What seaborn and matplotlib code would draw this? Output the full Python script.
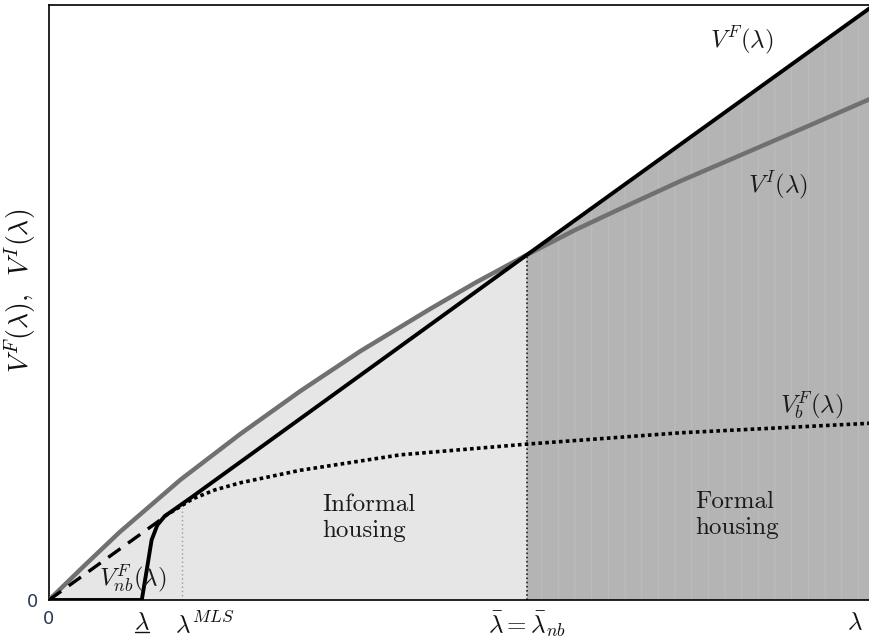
import numpy as np
import pandas as pd
import matplotlib
matplotlib.use("Agg")
import matplotlib.pyplot as plt
import matplotlib.transforms as mtransforms
import seaborn as sns

# ---- data (arbitrary units, x and y in 0..10) ----
vi_x = [0.0, 0.44, 0.86, 1.60, 2.33, 3.06, 3.79, 4.64, 5.19, 5.82, 6.41,
        6.95, 7.69, 8.48, 9.27, 10.0]
vi_y = [0.0, 0.59, 1.14, 2.02, 2.79, 3.51, 4.18, 4.89, 5.33, 5.80, 6.22,
        6.57, 7.04, 7.51, 7.98, 8.42]

vf_x = [0.0, 1.13, 1.19, 1.25, 1.32, 1.41, 1.72, 5.82, 10.0]
vf_y = [0.0, 0.0, 0.50, 1.01, 1.26, 1.41, 1.71, 5.80, 9.95]

vnb_x = [0.0, 1.35]
vnb_y = [0.0, 1.34]

vb_x = [1.41, 1.75, 2.02, 2.33, 3.06, 4.28, 5.82, 7.69, 10.0]
vb_y = [1.41, 1.70, 1.85, 1.97, 2.18, 2.44, 2.62, 2.81, 2.97]

lam_low = 1.13
lam_mls = 1.62
lam_bar = 5.82
lam_end = 9.82
mls_top = 1.55
bar_top = 5.78

tick_pos = [0, lam_low, lam_mls, lam_bar, lam_end]
tick_labels = ["0", r"$\lambda$", r"$\lambda^{MLS}$",
               r"$\bar{\lambda}=\bar{\lambda}_{nb}$", r"$\lambda$"]

sns.set_theme(style="white")
plt.rcParams["mathtext.fontset"] = "cm"
plt.rcParams["font.family"] = ["DejaVu Sans"]
plt.rcParams["hatch.linewidth"] = 0.8

fig = plt.figure(figsize=(8.7, 6.39), dpi=100)
ax = fig.add_axes([49 / 870, 39 / 639, 821 / 870, 595 / 639])

# fills
vi_arr_x = np.array(vi_x)
vi_arr_y = np.array(vi_y)
m = vi_arr_x <= lam_bar
ax.fill_between(vi_arr_x[m], 0, vi_arr_y[m], color="#e6e6e6", lw=0, zorder=0)
vf_arr_x = np.array(vf_x)
vf_arr_y = np.array(vf_y)
m2 = vf_arr_x >= lam_bar
ax.fill_between(vf_arr_x[m2], 0, vf_arr_y[m2], facecolor="#b4b4b4",
                edgecolor="#bcbcbc", hatch="|", lw=0, zorder=0)

# vertical guides
ax.plot([lam_mls, lam_mls], [0, mls_top], color="#999999", lw=1.0,
        ls=(0, (1, 2)), zorder=1)
ax.plot([lam_bar, lam_bar], [0, bar_top], color="#222222", lw=1.2,
        ls=(0, (1, 1.5)), zorder=1)

# curves
sns.lineplot(x=vi_x, y=vi_y, ax=ax, color="#707070", lw=3.2, sort=False,
             zorder=3)
sns.lineplot(x=vb_x, y=vb_y, ax=ax, color="black", lw=2.6, sort=False,
             ls=(0, (1, 0.9)), zorder=3)
sns.lineplot(x=vnb_x, y=vnb_y, ax=ax, color="black", lw=2.4, sort=False,
             ls=(0, (4.5, 2.8)), zorder=3)
sns.lineplot(x=vf_x, y=vf_y, ax=ax, color="black", lw=2.8, sort=False,
             zorder=4)

ax.set_xlim(0, 10)
ax.set_ylim(0, 10)

for s in ax.spines.values():
    s.set_color("black")
    s.set_linewidth(1.2)

ax.set_xticks(tick_pos)
ax.set_xticklabels(tick_labels)
ax.set_yticks([0])
ax.set_yticklabels(["0"])
ax.tick_params(axis="both", length=0)
ax.tick_params(axis="x", pad=7)
ax.tick_params(axis="y", pad=8)
for i, t in enumerate(ax.get_xticklabels()):
    if i == 0:
        t.set_fontsize(13)
        t.set_color("#2d3a55")
        t.set_family("DejaVu Sans")
    else:
        t.set_fontsize(18)
        t.set_color("#111111")
    if i == 2:
        t.set_horizontalalignment("left")
        t.set_transform(t.get_transform() + mtransforms.ScaledTranslation(-7 / 100, 0, fig.dpi_scale_trans))
for t in ax.get_yticklabels():
    t.set_fontsize(13)
    t.set_color("#2d3a55")

# underline under the lower-bound lambda tick label
ax.plot([lam_low - 0.085, lam_low + 0.085], [-0.054, -0.054], color="#111111",
        lw=1.0, transform=ax.get_xaxis_transform(), clip_on=False)

ax.set_ylabel(r"$V^F(\lambda),\;\; V^I(\lambda)$", fontsize=20, color="#111111")
ax.yaxis.set_label_coords(-0.012, 0.52)

tc = "#1a1a1a"
ax.text(8.44, 9.41, r"$V^F(\lambda)$", fontsize=18, ha="center", va="center", color=tc)
ax.text(8.88, 6.97, r"$V^I(\lambda)$", fontsize=18, ha="center", va="center", color=tc)
ax.text(9.29, 3.28, r"$V^F_b(\lambda)$", fontsize=18, ha="center", va="center", color=tc)
ax.text(1.02, 0.36, r"$V^F_{nb}(\lambda)$", fontsize=18, ha="center", va="center", color=tc, zorder=5)
ax.text(3.33, 1.38, "Informal\nhousing", fontsize=18, ha="left", va="center",
        family="cmr10", color=tc, linespacing=1.2)
ax.text(7.87, 1.43, "Formal\nhousing", fontsize=18, ha="left", va="center",
        family="cmr10", color=tc, linespacing=1.2)

fig.savefig("out.png", dpi=100)
